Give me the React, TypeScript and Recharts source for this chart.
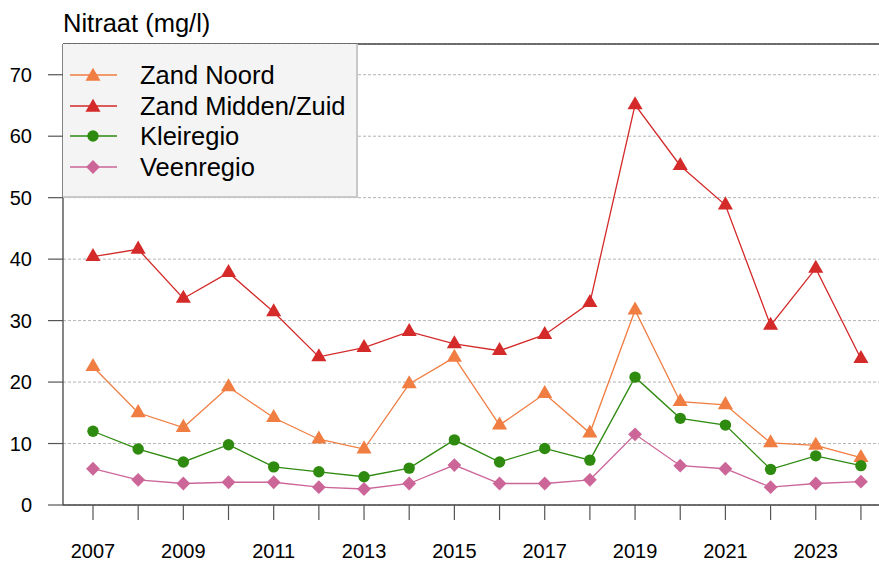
import React from 'react';
import { LineChart, Line, XAxis, YAxis, CartesianGrid, ReferenceLine, Legend } from 'recharts';

const years = [2007, 2008, 2009, 2010, 2011, 2012, 2013, 2014, 2015, 2016, 2017, 2018, 2019, 2020, 2021, 2022, 2023, 2024];
const zandNoord = [22.5, 15.0, 12.6, 19.2, 14.2, 10.7, 9.1, 19.7, 24.0, 13.0, 18.1, 11.7, 31.7, 16.8, 16.3, 10.1, 9.7, 7.7];
const zandMiddenZuid = [40.4, 41.6, 33.6, 37.8, 31.4, 24.1, 25.6, 28.2, 26.2, 25.1, 27.7, 32.9, 65.1, 55.2, 48.8, 29.2, 38.5, 23.8];
const kleiregio = [12.0, 9.1, 7.0, 9.8, 6.2, 5.4, 4.6, 6.0, 10.6, 7.0, 9.2, 7.3, 20.8, 14.1, 13.0, 5.8, 8.0, 6.4];
const veenregio = [5.9, 4.1, 3.5, 3.7, 3.7, 2.9, 2.6, 3.5, 6.5, 3.5, 3.5, 4.1, 11.5, 6.4, 5.9, 2.9, 3.5, 3.8];
const yTicks = [0, 10, 20, 30, 40, 50, 60, 70];
const xLabelYears = [2007, 2009, 2011, 2013, 2015, 2017, 2019, 2021, 2023];

const FONT = '"Liberation Sans", Arial, Helvetica, sans-serif';

const series = [
  { key: 'zandNoord', name: 'Zand Noord', color: '#f07d41', shape: 'triangle' },
  { key: 'zandMiddenZuid', name: 'Zand Midden/Zuid', color: '#d42a2a', shape: 'triangle' },
  { key: 'kleiregio', name: 'Kleiregio', color: '#2f8a10', shape: 'circle' },
  { key: 'veenregio', name: 'Veenregio', color: '#cc6699', shape: 'diamond' },
];

const data = years.map((year, i) => ({
  year,
  zandNoord: zandNoord[i],
  zandMiddenZuid: zandMiddenZuid[i],
  kleiregio: kleiregio[i],
  veenregio: veenregio[i],
}));

function Marker({ shape, cx, cy, color }: { shape: string; cx: number; cy: number; color: string }) {
  if (shape === 'triangle') {
    const r = 8.7;
    const xc = r * 0.866;
    return <path d={`M${cx},${cy - r}L${cx + xc},${cy + r / 2}L${cx - xc},${cy + r / 2}Z`} fill={color} stroke="none" />;
  }
  if (shape === 'circle') {
    return <circle cx={cx} cy={cy} r={5.7} fill={color} stroke="none" />;
  }
  const d = 6.9;
  return <path d={`M${cx},${cy - d}L${cx + d},${cy}L${cx},${cy + d}L${cx - d},${cy}Z`} fill={color} stroke="none" />;
}

function makeDot(shape: string, color: string) {
  return (props: any) => {
    const { cx, cy, index } = props;
    if (cx == null || cy == null) return <g key={`e-${index}`} />;
    return <Marker key={`${shape}-${index}`} shape={shape} cx={cx} cy={cy} color={color} />;
  };
}

function LegendBox() {
  return (
    <div
      style={{
        position: 'relative',
        width: 295,
        height: 154,
        boxSizing: 'border-box',
        background: '#f4f4f4',
        borderRight: '2px solid #c8c8c8',
        borderBottom: '2px solid #c8c8c8',
        fontFamily: FONT,
      }}
    >
      {series.map((s, i) => {
        const cy = 31 + i * 30.6;
        return (
          <div key={s.key} style={{ position: 'absolute', left: 0, top: cy - 15, height: 30, width: 295 }}>
            <svg width={70} height={30} style={{ position: 'absolute', left: 0, top: 0 }}>
              <line x1={7} x2={54} y1={15} y2={15} stroke={s.color} strokeWidth={1.3} />
              <Marker shape={s.shape} cx={30} cy={s.shape === 'triangle' ? 16.5 : 15} color={s.color} />
            </svg>
            <span
              style={{
                position: 'absolute',
                left: 77,
                top: 0,
                lineHeight: '30px',
                fontSize: 25.5,
                color: '#000',
                whiteSpace: 'nowrap',
              }}
            >
              {s.name}
            </span>
          </div>
        );
      })}
    </div>
  );
}

export default function App() {
  return (
    <div style={{ position: 'absolute', left: 0, top: 0, width: 879, height: 563, background: '#fff', fontFamily: FONT }}>
      <div style={{ position: 'absolute', left: 63, top: 11, fontSize: 25.5, lineHeight: '25px', color: '#000', whiteSpace: 'nowrap' }}>
        Nitraat (mg/l)
      </div>
      <LineChart width={879} height={563} data={data} margin={{ top: 44, right: 0, bottom: 0, left: 0 }}>
        <CartesianGrid vertical={false} stroke="#b4b4b4" strokeDasharray="3 2" />
        <XAxis
          dataKey="year"
          type="number"
          domain={[2006.336, 2024.4]}
          allowDataOverflow
          ticks={years}
          interval={0}
          tickFormatter={(v: number) => (xLabelYears.includes(v) ? String(v) : '')}
          tickSize={15}
          tickMargin={24}
          height={58}
          axisLine={{ stroke: '#444', strokeWidth: 1.3 }}
          tickLine={{ stroke: '#555', strokeWidth: 1.2 }}
          tick={{ fill: '#000', fontSize: 20, fontFamily: FONT }}
        />
        <YAxis
          type="number"
          domain={[0, 75]}
          allowDataOverflow
          ticks={yTicks}
          interval={0}
          width={63}
          tickSize={15}
          tickMargin={16}
          axisLine={{ stroke: '#444', strokeWidth: 1.3 }}
          tickLine={{ stroke: '#555', strokeWidth: 1.2 }}
          tick={{ fill: '#000', fontSize: 20, fontFamily: FONT }}
        />
        <ReferenceLine y={75} stroke="#444" strokeWidth={1.3} ifOverflow="visible" />
        {series.map((s) => (
          <Line
            key={s.key}
            dataKey={s.key}
            name={s.name}
            stroke={s.color}
            strokeWidth={1.3}
            dot={makeDot(s.shape, s.color)}
            activeDot={false}
            isAnimationActive={false}
          />
        ))}
        <Legend
          layout="vertical"
          align="center"
          verticalAlign="middle"
          content={() => <LegendBox />}
          wrapperStyle={{ position: 'absolute', left: 63, top: 44, width: 295, height: 154 }}
        />
      </LineChart>
    </div>
  );
}
